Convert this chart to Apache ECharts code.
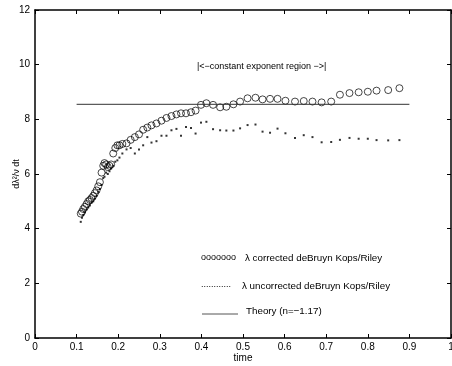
<!DOCTYPE html>
<html>
<head>
<meta charset="utf-8">
<script src="https://cdn.jsdelivr.net/npm/echarts@6/dist/echarts.min.js"></script>
<style>html,body{margin:0;padding:0;background:#fff}#c{width:452px;height:366px}</style>
</head>
<body>
<div id="c"></div>
<script>
var times = [0.110,0.113,0.116,0.120,0.124,0.128,0.132,0.136,0.140,0.144,0.148,0.152,0.156,0.160,0.164,0.167,0.171,0.175,0.179,0.183,0.188,0.193,0.198,0.203,0.210,0.220,0.230,0.240,0.250,0.260,0.270,0.280,0.292,0.304,0.316,0.328,0.340,0.351,0.363,0.375,0.386,0.399,0.412,0.428,0.445,0.460,0.477,0.493,0.511,0.530,0.547,0.565,0.583,0.602,0.625,0.646,0.667,0.689,0.712,0.733,0.756,0.778,0.800,0.821,0.849,0.876];
var corrected = [4.55,4.62,4.72,4.80,4.90,5.00,5.05,5.12,5.20,5.30,5.40,5.55,5.70,6.05,6.30,6.40,6.35,6.25,6.30,6.35,6.75,6.95,7.05,7.05,7.10,7.12,7.25,7.35,7.45,7.62,7.70,7.78,7.85,7.95,8.05,8.12,8.18,8.22,8.22,8.26,8.32,8.53,8.59,8.53,8.44,8.46,8.55,8.65,8.77,8.79,8.73,8.75,8.75,8.68,8.65,8.67,8.65,8.62,8.65,8.90,8.96,8.99,9.01,9.05,9.07,9.14];
var uncorrected = [4.25,4.40,4.50,4.60,4.70,4.78,4.85,4.95,5.00,5.10,5.20,5.35,5.45,5.60,5.85,5.90,6.05,6.00,6.10,6.20,6.30,6.45,6.50,6.60,6.75,6.90,6.95,6.75,6.90,7.05,7.35,7.15,7.20,7.40,7.40,7.60,7.65,7.40,7.72,7.68,7.48,7.88,7.91,7.64,7.60,7.59,7.59,7.67,7.79,7.81,7.55,7.51,7.66,7.49,7.32,7.42,7.35,7.16,7.17,7.25,7.32,7.29,7.29,7.24,7.23,7.24];
var theoryT = [0.1, 0.9];
var theoryV = [8.55, 8.55];
var xTicks = [0,0.1,0.2,0.3,0.4,0.5,0.6,0.7,0.8,0.9,1];
var yTicks = [0,2,4,6,8,10,12];

var FONT = 'Liberation Sans, Arial, sans-serif';
function zip(a,b){return a.map(function(v,i){return [v,b[i]];});}

var chart = echarts.init(document.getElementById('c'), null, {renderer:'canvas'});
var axisCommon = {
  axisLine:{show:true,onZero:false,lineStyle:{color:'#000',width:1.5}},
  axisTick:{show:true,inside:true,length:4,lineStyle:{color:'#000',width:1}},
  splitLine:{show:false}
};
chart.setOption({
  animation:false,
  backgroundColor:'#fff',
  grid:{left:35,right:1,top:10,bottom:28,containLabel:false,outerBoundsMode:'none'},
  xAxis:[
    Object.assign({type:'value',min:0,max:1,interval:0.1,position:'bottom',
      name:'time',nameLocation:'middle',nameGap:15,nameMoveOverlap:false,
      nameTextStyle:{fontFamily:FONT,fontSize:10,color:'#000',verticalAlign:'top'},
      axisLabel:{fontFamily:FONT,fontSize:10,color:'#000',margin:4,
        formatter:function(v){var r=Math.round(v*10)/10; return xTicks.indexOf(r)>=0?String(r):'';}}
    },axisCommon),
    Object.assign({type:'value',min:0,max:1,interval:0.1,position:'top',axisLabel:{show:false}},axisCommon)
  ],
  yAxis:[
    Object.assign({type:'value',min:0,max:12,interval:2,position:'left',
      name:'d\u03BB\u00B2/\u03BD dt',nameLocation:'middle',nameGap:14,nameRotate:90,nameMoveOverlap:false,
      nameTextStyle:{fontFamily:FONT,fontSize:9,color:'#000'},
      axisLabel:{fontFamily:FONT,fontSize:10,color:'#000',margin:5,
        formatter:function(v){return yTicks.indexOf(v)>=0?String(v):'';}}
    },axisCommon),
    Object.assign({type:'value',min:0,max:12,interval:2,position:'right',axisLabel:{show:false}},axisCommon)
  ],
  series:[
    {type:'line',data:zip(theoryT,theoryV),symbol:'none',lineStyle:{color:'#333',width:1},silent:true},
    {type:'scatter',data:zip(times,uncorrected),symbol:'rect',symbolSize:2,itemStyle:{color:'#000'}},
    {type:'scatter',data:zip(times,corrected),symbol:'circle',symbolSize:7,
      itemStyle:{color:'rgba(0,0,0,0)',borderColor:'#000',borderWidth:0.9}}
  ],
  graphic:[
    {type:'text',left:197,top:62,style:{text:'|<\u2212constant exponent region \u2212>|',fontFamily:FONT,fontSize:9,fill:'#000'}},
    {type:'text',left:201,top:253,style:{text:'ooooooo',fontFamily:FONT,fontSize:9,fill:'#000'}},
    {type:'text',left:245,top:253,style:{text:'\u03BB corrected deBruyn Kops/Riley',fontFamily:FONT,fontSize:9.8,fill:'#000'}},
    {type:'text',left:201,top:280,style:{text:'............',fontFamily:FONT,fontSize:9,fill:'#000'}},
    {type:'text',left:242,top:281,style:{text:'\u03BB uncorrected deBruyn Kops/Riley',fontFamily:FONT,fontSize:9.8,fill:'#000'}},
    {type:'line',shape:{x1:202,y1:314,x2:238,y2:314},style:{stroke:'#555',lineWidth:1}},
    {type:'text',left:246,top:306,style:{text:'Theory (n=\u22121.17)',fontFamily:FONT,fontSize:9.8,fill:'#000'}}
  ]
});
</script>
</body>
</html>
